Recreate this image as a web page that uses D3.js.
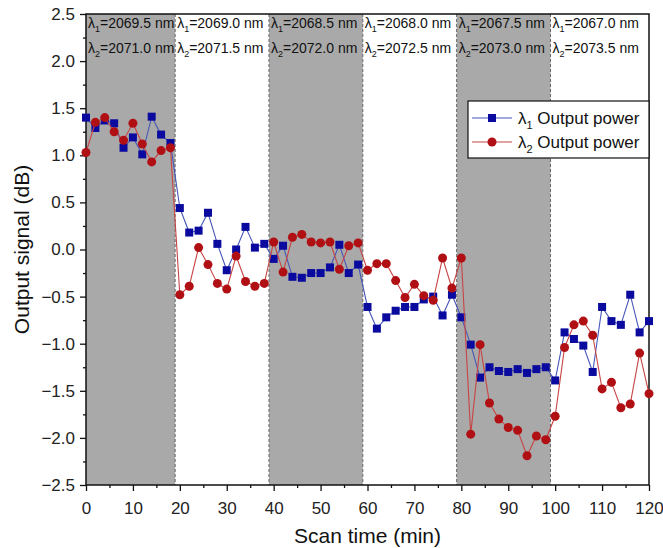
<!DOCTYPE html>
<html>
<head>
<meta charset="utf-8">
<script src="https://cdn.jsdelivr.net/npm/d3@7"></script>
<style>
  body { margin: 0; background: #fff; }
  svg { font-family: Arial, "Liberation Sans", sans-serif; }
</style>
</head>
<body>
<svg id="chart" width="663" height="548"></svg>
<script>
// Scan time (min)
const scanTime = [0,2,4,6,8,10,12,14,16,18,20,22,24,26,28,30,32,34,36,38,40,
  42,44,46,48,50,52,54,56,58,60,62,64,66,68,70,72,74,76,78,80,
  82,84,86,88,90,92,94,96,98,100,102,104,106,108,110,112,114,116,118,120];

// lambda 1 output power (dB)
const lambda1 = [1.40,1.29,1.37,1.34,1.08,1.19,1.01,1.41,1.22,1.13,
  0.44,0.18,0.20,0.39,0.06,-0.22,0.00,0.24,0.02,0.06,
  -0.10,0.04,-0.29,-0.30,-0.25,-0.25,-0.19,0.05,-0.25,-0.16,
  -0.61,-0.84,-0.72,-0.65,-0.61,-0.61,-0.53,-0.50,-0.70,-0.48,
  -0.72,-1.01,-1.36,-1.25,-1.29,-1.30,-1.27,-1.31,-1.27,-1.25,
  -1.39,-0.88,-0.95,-1.02,-1.30,-0.61,-0.76,-0.80,-0.48,-0.88,-0.76];

// lambda 2 output power (dB)
const lambda2 = [1.03,1.35,1.40,1.25,1.16,1.34,1.12,0.93,1.05,1.08,
  -0.48,-0.39,0.02,-0.16,-0.36,-0.42,-0.07,-0.34,-0.39,-0.36,
  0.08,-0.24,0.13,0.16,0.08,0.07,0.08,-0.21,0.04,0.07,
  -0.22,-0.15,-0.15,-0.33,-0.51,-0.37,-0.49,-0.54,-0.09,-0.41,
  -0.09,-1.96,-1.01,-1.63,-1.80,-1.89,-1.92,-2.19,-1.98,-2.02,
  -1.77,-1.04,-0.80,-0.76,-0.91,-1.48,-1.41,-1.68,-1.64,-1.10,-1.53];

// wavelength segments (start/end in min)
const segStart = [0,19,39,59,79,99];
const segEnd = [19,39,59,79,99,120];
const segShaded = [true,false,true,false,true,false];
const wl1 = ["2069.5","2069.0","2068.5","2068.0","2067.5","2067.0"];
const wl2 = ["2071.0","2071.5","2072.0","2072.5","2073.0","2073.5"];

const xTicks = [0,10,20,30,40,50,60,70,80,90,100,110,120];
const yTicks = [2.5,2.0,1.5,1.0,0.5,0.0,-0.5,-1.0,-1.5,-2.0,-2.5];

const m = {l:86, r:649, t:14, b:485};
const svg = d3.select("#chart");

const x = d3.scaleLinear().domain([0,120]).range([m.l, m.r]);
const y = d3.scaleLinear().domain([-2.5,2.5]).range([m.b, m.t]);

// shaded bands
const segs = segStart.map((s,i) => ({s:s, e:segEnd[i], shade:segShaded[i], a:wl1[i], b:wl2[i]}));
svg.append("g").selectAll("rect")
  .data(segs.filter(d => d.shade))
  .enter().append("rect")
  .attr("x", d => x(d.s))
  .attr("y", m.t)
  .attr("width", d => x(d.e) - x(d.s))
  .attr("height", m.b - m.t)
  .attr("fill", "#a9a9a9");

// dashed separators
svg.append("g").selectAll("line")
  .data(segStart.slice(1))
  .enter().append("line")
  .attr("x1", d => x(d)).attr("x2", d => x(d))
  .attr("y1", m.t).attr("y2", m.b)
  .attr("stroke", "#666")
  .attr("stroke-width", 1)
  .attr("stroke-dasharray", "3,2");

// segment labels
function lamLabel(g, yy, sub, val) {
  const t = g.append("text").attr("y", yy).attr("font-size", 14).attr("fill", "#111");
  t.append("tspan").text("λ");
  t.append("tspan").attr("font-size", 9).attr("dy", 4).text(sub);
  t.append("tspan").attr("dy", -4).text("=" + val + " nm");
  return t;
}
segs.forEach(d => {
  const g = svg.append("g").attr("transform", "translate(" + (x(d.s) + 2) + ",0)");
  lamLabel(g, 28, "1", d.a);
  lamLabel(g, 53, "2", d.b);
});

// axes
const xAxis = svg.append("g")
  .attr("transform", "translate(0," + m.b + ")")
  .call(d3.axisBottom(x).tickValues(xTicks).tickSize(6).tickPadding(11).tickFormat(d3.format("d")));
const xMinor = svg.append("g")
  .attr("transform", "translate(0," + m.b + ")")
  .call(d3.axisBottom(x).tickValues(xTicks.slice(1).map(v => v - 5)).tickSize(3).tickFormat(""));
const yAxis = svg.append("g")
  .attr("transform", "translate(" + m.l + ",0)")
  .call(d3.axisLeft(y).tickValues(yTicks).tickSize(6).tickPadding(5).tickFormat(d3.format(".1f")));
const yMinor = svg.append("g")
  .attr("transform", "translate(" + m.l + ",0)")
  .call(d3.axisLeft(y).tickValues(yTicks.slice(1).map(v => v + 0.25)).tickSize(3).tickFormat(""));

[xAxis, yAxis].forEach(a => a.selectAll("text").attr("font-size", 17).attr("fill", "#222").attr("font-family", "Arial, 'Liberation Sans', sans-serif"));
[xAxis, yAxis, xMinor, yMinor].forEach(a => {
  a.select(".domain").remove();
  a.selectAll("line").attr("stroke", "#111").attr("stroke-width", 1.3);
});

// frame
svg.append("rect")
  .attr("x", m.l).attr("y", m.t)
  .attr("width", m.r - m.l).attr("height", m.b - m.t)
  .attr("fill", "none").attr("stroke", "#111").attr("stroke-width", 1.5);

// series
const series = [
  {vals: lambda1, line: "#4656b8", mark: "#0a0a9e", shape: "square"},
  {vals: lambda2, line: "#c84444", mark: "#b01014", shape: "circle"}
];
const line = d3.line().x(d => x(d[0])).y(d => y(d[1]));

series.forEach(s => {
  const pts = scanTime.map((t,i) => [t, s.vals[i]]);
  svg.append("path")
    .datum(pts)
    .attr("d", line)
    .attr("fill", "none")
    .attr("stroke", s.line)
    .attr("stroke-width", 1.1);
  const g = svg.append("g");
  if (s.shape === "square") {
    g.selectAll("rect").data(pts).enter().append("rect")
      .attr("x", d => x(d[0]) - 4).attr("y", d => y(d[1]) - 4)
      .attr("width", 8).attr("height", 8)
      .attr("fill", s.mark);
  } else {
    g.selectAll("circle").data(pts).enter().append("circle")
      .attr("cx", d => x(d[0])).attr("cy", d => y(d[1]))
      .attr("r", 4.5)
      .attr("fill", s.mark);
  }
});

// legend
const lg = svg.append("g");
lg.append("rect")
  .attr("x", 468).attr("y", 101).attr("width", m.r - 468).attr("height", 57)
  .attr("fill", "#fff").attr("stroke", "#111").attr("stroke-width", 1.2);
const legendRows = [
  {sub: "1", yy: 118, s: series[0]},
  {sub: "2", yy: 142, s: series[1]}
];
legendRows.forEach(r => {
  lg.append("line").attr("x1", 472).attr("x2", 512).attr("y1", r.yy).attr("y2", r.yy)
    .attr("stroke", r.s.line).attr("stroke-width", 1.1);
  if (r.s.shape === "square") {
    lg.append("rect").attr("x", 488).attr("y", r.yy - 4).attr("width", 8).attr("height", 8).attr("fill", r.s.mark);
  } else {
    lg.append("circle").attr("cx", 492).attr("cy", r.yy).attr("r", 4.5).attr("fill", r.s.mark);
  }
  const t = lg.append("text").attr("x", 518).attr("y", r.yy + 6).attr("font-size", 17).attr("fill", "#111");
  t.append("tspan").text("λ");
  t.append("tspan").attr("font-size", 11).attr("dy", 5).text(r.sub);
  t.append("tspan").attr("dy", -5).text(" Output power");
});

// axis titles
svg.append("text")
  .attr("x", x(60)).attr("y", 543)
  .attr("text-anchor", "middle")
  .attr("font-size", 21).attr("fill", "#111")
  .text("Scan time (min)");
svg.append("text")
  .attr("transform", "translate(29," + y(0) + ") rotate(-90)")
  .attr("text-anchor", "middle")
  .attr("font-size", 21).attr("fill", "#111")
  .text("Output signal (dB)");
</script>
</body>
</html>
